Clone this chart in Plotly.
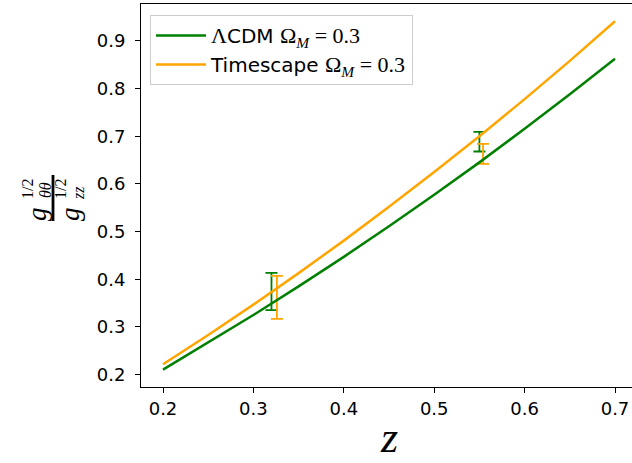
import plotly.graph_objects as go

# Redshift grid and model curves
z = [0.20, 0.25, 0.30, 0.35, 0.40, 0.45, 0.50, 0.55, 0.60, 0.65, 0.70]
lcdm = [0.2105, 0.2669, 0.3251, 0.3852, 0.4471, 0.5111, 0.5771, 0.6452, 0.7155, 0.7880, 0.8626]
timescape = [0.2218, 0.2832, 0.3469, 0.4129, 0.4811, 0.5520, 0.6250, 0.7000, 0.7778, 0.8581, 0.9410]

# Measurements with 1-sigma errors
z_obs_lcdm = [0.320, 0.550]
f_obs_lcdm = [0.3745, 0.6885]
e_obs_lcdm = [0.0390, 0.0205]

z_obs_ts = [0.326, 0.554]
f_obs_ts = [0.3620, 0.6630]
e_obs_ts = [0.0450, 0.0210]

x_ticks = [0.2, 0.3, 0.4, 0.5, 0.6, 0.7]
y_ticks = [0.2, 0.3, 0.4, 0.5, 0.6, 0.7, 0.8, 0.9]

GREEN = "#008000"
ORANGE = "#FFA500"
SERIF = "Liberation Serif"
SANS = "DejaVu Sans"

W, H = 632, 463
L, R, T, B = 141, 0, 4, 76
PW, PH = W - L - R, H - T - B


def px(xp):
    return (xp - L) / PW


def py(yp):
    return (H - B - yp) / PH


fig = go.Figure()

fig.add_trace(go.Scatter(
    x=z_obs_lcdm, y=f_obs_lcdm, mode="markers",
    marker=dict(size=1, color="rgba(0,0,0,0)"),
    error_y=dict(type="data", array=e_obs_lcdm, color=GREEN, thickness=1.8, width=6),
    showlegend=False, hoverinfo="skip"))
fig.add_trace(go.Scatter(
    x=z_obs_ts, y=f_obs_ts, mode="markers",
    marker=dict(size=1, color="rgba(0,0,0,0)"),
    error_y=dict(type="data", array=e_obs_ts, color=ORANGE, thickness=1.8, width=6),
    showlegend=False, hoverinfo="skip"))

omega = f'<span style="font-family:{SERIF};font-size:22px">Ω<sub><i>M</i></sub> = 0.3</span>'
fig.add_trace(go.Scatter(
    x=z, y=lcdm, mode="lines", line=dict(color=GREEN, width=2.5),
    name=f'<span style="font-family:{SERIF};font-size:22px">Λ</span>CDM ' + omega))
fig.add_trace(go.Scatter(
    x=z, y=timescape, mode="lines", line=dict(color=ORANGE, width=2.5),
    name='Timescape ' + omega))

axis_common = dict(
    showgrid=False, zeroline=False, showline=True, linecolor="black", linewidth=1.1,
    ticks="outside", ticklen=5, tickwidth=1.1, tickcolor="black",
    tickfont=dict(family=SANS, size=18, color="black"),
)

fig.update_xaxes(range=[0.17566, 0.7188], tickvals=x_ticks,
                 ticktext=[f"{v:.1f}" for v in x_ticks], mirror=True, **axis_common)
fig.update_yaxes(range=[0.17418, 0.97726], tickvals=y_ticks,
                 ticktext=[f"{v:.1f}" for v in y_ticks], mirror=False,
                 ticklabelstandoff=6, **axis_common)

annotations = []
# x-axis label
annotations.append(dict(x=px(389), y=py(463), xref="paper", yref="paper",
                        text="<i>z</i>", showarrow=False, yanchor="bottom",
                        borderpad=0,
                        font=dict(family=SERIF, size=44, color="black")))

# y-axis label: fraction g_θθ^{1/2} / g_zz^{1/2}, rotated
def rot(text, xp, yp, size, italic=True):
    t = f"<i>{text}</i>" if italic else text
    annotations.append(dict(x=px(xp), y=py(yp), xref="paper", yref="paper",
                            text=t, showarrow=False, textangle=-90,
                            xanchor="center", yanchor="middle",
                            font=dict(family=SERIF, size=size, color="black")))

rot("g", 37, 214, 27)
rot("1/2", 27, 189, 16, italic=False)
rot("θθ", 45, 190, 16)
rot("g", 70, 214, 27)
rot("1/2", 60, 189, 16, italic=False)
rot("zz", 78, 193, 16)

fig.add_shape(type="line", xref="paper", yref="paper",
              x0=px(53), x1=px(53), y0=py(175), y1=py(221),
              line=dict(color="black", width=2.8))

fig.update_layout(
    width=W, height=H,
    margin=dict(l=L, r=R, t=T, b=B, pad=0),
    paper_bgcolor="white", plot_bgcolor="white",
    annotations=annotations,
    legend=dict(x=px(150), y=py(15), xanchor="left", yanchor="top",
                bgcolor="rgba(255,255,255,0.8)", bordercolor="#cccccc", borderwidth=1,
                font=dict(family=SANS, size=20, color="black"),
                itemwidth=50, tracegroupgap=0),
)

fig.write_html("out.html")
